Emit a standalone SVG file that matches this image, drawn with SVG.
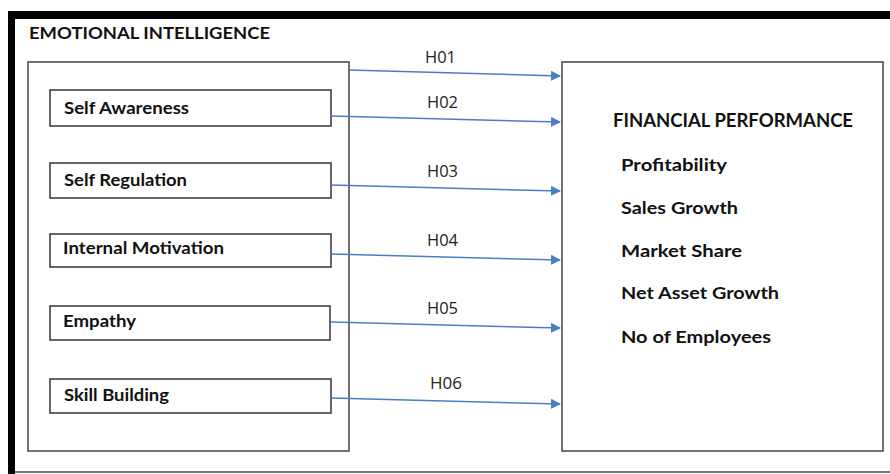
<svg xmlns="http://www.w3.org/2000/svg" width="890" height="474" viewBox="0 0 890 474">
  <defs>
    <marker id="arrow" viewBox="0 0 10 10" refX="9" refY="5" markerWidth="10" markerHeight="10" markerUnits="userSpaceOnUse" orient="auto">
      <path d="M0,0 L10,5 L0,10 z" fill="#4a7ec4"/>
    </marker>
    <style>
      .frame { fill: none; stroke: #444; stroke-width: 1.5; }
      .item { fill: #fff; stroke: #333; stroke-width: 1.5; }
      .bold { font-family: Lato, "Open Sans", "Liberation Sans", sans-serif; font-weight: bold; fill: #111; }
      .lbl { font-family: "Open Sans", "DejaVu Sans", sans-serif; font-size: 15.5px; fill: #222; }
      .conn { stroke: #4a7ec4; stroke-width: 1.5; fill: none; marker-end: url(#arrow); }
    </style>
  </defs>
  <rect width="890" height="474" fill="#fff"/>

  <!-- outer page border -->
  <rect x="8" y="11" width="7" height="463" fill="#000"/>
  <rect x="8" y="11" width="882" height="8" fill="#000"/>
  <line x1="15" y1="472" x2="890" y2="472" stroke="#444" stroke-width="1.5"/>

  <text class="bold" x="29" y="39" font-size="17.5" textLength="241" lengthAdjust="spacingAndGlyphs">EMOTIONAL INTELLIGENCE</text>

  <g id="emotional-intelligence">
    <rect class="frame" x="28" y="62" width="321" height="389"/>
  </g>

  <g id="self-awareness">
    <rect class="item" x="50" y="90" width="281" height="36"/>
    <text class="bold" x="64" y="114" font-size="17" textLength="125" lengthAdjust="spacingAndGlyphs">Self Awareness</text>
  </g>
  <g id="self-regulation">
    <rect class="item" x="50" y="163" width="281" height="35"/>
    <text class="bold" x="64" y="186" font-size="17" textLength="123" lengthAdjust="spacingAndGlyphs">Self Regulation</text>
  </g>
  <g id="internal-motivation">
    <rect class="item" x="50" y="234" width="281" height="33"/>
    <text class="bold" x="63" y="254" font-size="17" textLength="161" lengthAdjust="spacingAndGlyphs">Internal Motivation</text>
  </g>
  <g id="empathy">
    <rect class="item" x="50" y="306" width="280" height="34"/>
    <text class="bold" x="63" y="327" font-size="17" textLength="73" lengthAdjust="spacingAndGlyphs">Empathy</text>
  </g>
  <g id="skill-building">
    <rect class="item" x="50" y="379" width="281" height="34"/>
    <text class="bold" x="64" y="401" font-size="17" textLength="105" lengthAdjust="spacingAndGlyphs">Skill Building</text>
  </g>

  <g id="financial-performance">
    <rect class="frame" x="562" y="62" width="321" height="389"/>
    <text class="bold" x="613" y="127" font-size="18" textLength="240" lengthAdjust="spacingAndGlyphs">FINANCIAL PERFORMANCE</text>
    <text class="bold" x="621" y="171" font-size="17" textLength="106" lengthAdjust="spacingAndGlyphs">Profitability</text>
    <text class="bold" x="621" y="214" font-size="17" textLength="117" lengthAdjust="spacingAndGlyphs">Sales Growth</text>
    <text class="bold" x="621" y="257" font-size="17" textLength="121" lengthAdjust="spacingAndGlyphs">Market Share</text>
    <text class="bold" x="621" y="299" font-size="17" textLength="158" lengthAdjust="spacingAndGlyphs">Net Asset Growth</text>
    <text class="bold" x="621" y="343" font-size="17" textLength="150" lengthAdjust="spacingAndGlyphs">No of Employees</text>
  </g>

  <g id="connectors">
    <line class="conn" x1="349" y1="70" x2="560" y2="76"/>
    <line class="conn" x1="331" y1="116" x2="560" y2="122"/>
    <line class="conn" x1="331" y1="185" x2="560" y2="191"/>
    <line class="conn" x1="331" y1="254" x2="560" y2="260"/>
    <line class="conn" x1="331" y1="322" x2="560" y2="328"/>
    <line class="conn" x1="331" y1="398" x2="560" y2="404"/>
    <text class="lbl" x="425" y="63" textLength="31" lengthAdjust="spacingAndGlyphs">H01</text>
    <text class="lbl" x="427" y="108" textLength="31" lengthAdjust="spacingAndGlyphs">H02</text>
    <text class="lbl" x="427" y="177" textLength="31" lengthAdjust="spacingAndGlyphs">H03</text>
    <text class="lbl" x="427" y="246" textLength="31" lengthAdjust="spacingAndGlyphs">H04</text>
    <text class="lbl" x="427" y="314" textLength="31" lengthAdjust="spacingAndGlyphs">H05</text>
    <text class="lbl" x="430" y="389" textLength="32" lengthAdjust="spacingAndGlyphs">H06</text>
  </g>
</svg>
